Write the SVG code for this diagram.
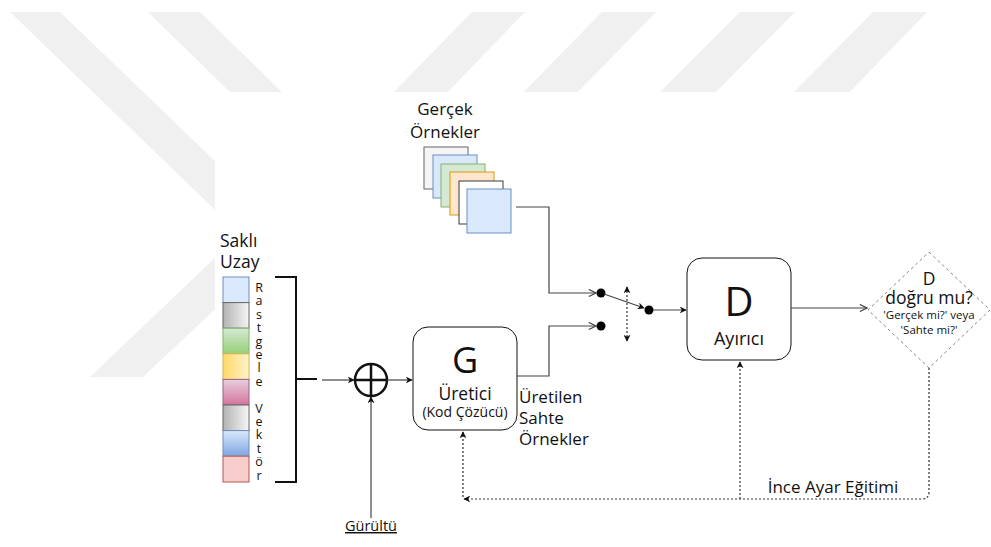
<svg xmlns="http://www.w3.org/2000/svg" width="991" height="547" viewBox="0 0 991 547">
<style>
text{font-family:"Open Sans","Noto Sans","DejaVu Sans",sans-serif;fill:#111}
.lbl{font-size:17px}
.ln{fill:none;stroke:#444;stroke-width:1.2}
.dash{fill:none;stroke:#333;stroke-width:1.2;stroke-dasharray:2,2}
.box{fill:#fff;stroke:#111;stroke-width:1}
.wm{fill:#f0f0f0}
</style>
<defs>
<marker id="fa" viewBox="0 0 10 10" refX="9" refY="5" markerWidth="7" markerHeight="7" markerUnits="userSpaceOnUse" orient="auto"><path d="M0,0 L10,5 L0,10 L3,5 z" fill="#111"/></marker>
<marker id="fas" viewBox="0 0 10 10" refX="9" refY="5" markerWidth="7" markerHeight="7" markerUnits="userSpaceOnUse" orient="auto-start-reverse"><path d="M0,0 L10,5 L0,10 L3,5 z" fill="#111"/></marker>
<marker id="oa" viewBox="0 0 10 10" refX="9" refY="5" markerWidth="9" markerHeight="9" markerUnits="userSpaceOnUse" orient="auto"><path d="M1,1 L9,5 L1,9" fill="none" stroke="#444" stroke-width="1.3"/></marker>
<linearGradient id="gGray" x1="0" y1="0" x2="1" y2="0"><stop offset="0" stop-color="#b3b3b3"/><stop offset="1" stop-color="#f5f5f5"/></linearGradient>
<linearGradient id="gGreen" x1="0" y1="0" x2="0" y2="1"><stop offset="0" stop-color="#d5e8d4"/><stop offset="1" stop-color="#97d077"/></linearGradient>
<linearGradient id="gYellow" x1="0" y1="0" x2="1" y2="0"><stop offset="0" stop-color="#ffd966"/><stop offset="1" stop-color="#fff2cc"/></linearGradient>
<linearGradient id="gPink" x1="0" y1="0" x2="0" y2="1"><stop offset="0" stop-color="#e6d0de"/><stop offset="1" stop-color="#d5739d"/></linearGradient>
<linearGradient id="gBlue" x1="0" y1="0" x2="0" y2="1"><stop offset="0" stop-color="#dae8fc"/><stop offset="1" stop-color="#7ea6e0"/></linearGradient>
</defs>
<rect width="991" height="547" fill="#fff"/>
<g id="watermark">
<polygon class="wm" points="10,12 60,12 293,236 143,377 90,377 240,234"/>
<polygon class="wm" points="148,12 200,12 290,100 238,100"/>
<polygon class="wm" points="472,12 525,12 440,100 386,100"/>
<polygon class="wm" points="602,12 656,12 570,100 516,100"/>
<polygon class="wm" points="740,12 795,12 708,100 652,100"/>
<polygon class="wm" points="873,12 927,12 842,100 786,100"/>
<rect x="215" y="92" width="776" height="455" fill="#fff"/>
</g>
<g id="real-samples">
<text class="lbl" x="445" y="115" text-anchor="middle">Gerçek</text>
<text class="lbl" x="445" y="138" text-anchor="middle">Örnekler</text>
<rect x="424" y="147" width="44" height="42" fill="#f5f5f5" stroke="#666"/>
<rect x="433" y="155" width="44" height="43" fill="#dae8fc" stroke="#6c8ebf"/>
<rect x="441" y="164" width="44" height="43" fill="#d5e8d4" stroke="#82b366"/>
<rect x="450" y="172" width="44" height="43" fill="#ffe6cc" stroke="#d79b00"/>
<rect x="459" y="181" width="44" height="43" fill="#fff" stroke="#36393d"/>
<rect x="467" y="189" width="44" height="44" fill="#dae8fc" stroke="#6c8ebf"/>
</g>
<g id="latent">
<text x="220" y="247" font-size="17.5">Saklı</text>
<text x="220" y="268" font-size="17.5">Uzay</text>
<rect x="223" y="277" width="26" height="25.6" fill="#dae8fc" stroke="#6c8ebf"/>
<rect x="223" y="302.6" width="26" height="25.6" fill="url(#gGray)" stroke="#666"/>
<rect x="223" y="328.2" width="26" height="25.6" fill="url(#gGreen)" stroke="#82b366"/>
<rect x="223" y="353.8" width="26" height="25.6" fill="url(#gYellow)" stroke="#d6b656"/>
<rect x="223" y="379.4" width="26" height="25.6" fill="url(#gPink)" stroke="#996185"/>
<rect x="223" y="405" width="26" height="25.6" fill="url(#gGray)" stroke="#666"/>
<rect x="223" y="430.6" width="26" height="25.6" fill="url(#gBlue)" stroke="#6c8ebf"/>
<rect x="223" y="456.2" width="26" height="25.8" fill="#f8cecc" stroke="#b85450"/>
<text font-size="12.5" text-anchor="middle"><tspan x="259" y="292">R</tspan><tspan x="259" y="305.4">a</tspan><tspan x="259" y="318.8">s</tspan><tspan x="259" y="332.2">t</tspan><tspan x="259" y="345.6">g</tspan><tspan x="259" y="359">e</tspan><tspan x="259" y="372.4">l</tspan><tspan x="259" y="385.8">e</tspan><tspan x="259" y="412.6">V</tspan><tspan x="259" y="426">e</tspan><tspan x="259" y="439.4">k</tspan><tspan x="259" y="452.8">t</tspan><tspan x="259" y="466.2">ö</tspan><tspan x="259" y="479.6">r</tspan></text>
<path d="M275,277 H296 V482 H275 M296,379 H317" fill="none" stroke="#111" stroke-width="2"/>
</g>
<g id="sum">
<circle cx="371" cy="380" r="16" fill="#fff" stroke="#111" stroke-width="2.5"/>
<path d="M355,380 H387 M371,364 V396" stroke="#111" stroke-width="2.5"/>
</g>
<g id="noise">
<text x="371" y="531" font-size="14.5" text-anchor="middle" text-decoration="underline">Gürültü</text>
</g>
<g id="generator">
<rect class="box" x="413" y="327" width="104" height="103" rx="15"/>
<text x="465" y="373" font-size="36" text-anchor="middle" fill="#333">G</text>
<text x="465" y="400" font-size="17.5" text-anchor="middle">Üretici</text>
<text x="465" y="417" font-size="14" text-anchor="middle">(Kod Çözücü)</text>
</g>
<g id="fake-samples">
<text class="lbl" x="519" y="403">Üretilen</text>
<text class="lbl" x="519" y="424">Sahte</text>
<text class="lbl" x="519" y="445">Örnekler</text>
</g>
<g id="switch">
<circle cx="601" cy="293" r="4.5" fill="#000"/>
<circle cx="601" cy="326" r="4.5" fill="#000"/>
<circle cx="649" cy="310" r="4.5" fill="#000"/>
</g>
<g id="discriminator">
<rect class="box" x="687" y="258" width="104" height="102" rx="15"/>
<text x="739" y="316" font-size="40" text-anchor="middle" fill="#333">D</text>
<text x="739" y="345" font-size="18" text-anchor="middle">Ayırıcı</text>
</g>
<g id="decision">
<polygon points="929,252 990,310 929,368 868,310" fill="#fff" stroke="#888" stroke-width="1" stroke-dasharray="3,3"/>
<text x="929" y="285" font-size="17.5" text-anchor="middle">D</text>
<text x="929" y="304" font-size="17.5" text-anchor="middle">doğru mu?</text>
<text x="929" y="319" font-size="11.5" text-anchor="middle">'Gerçek mi?' veya</text>
<text x="929" y="334" font-size="11.5" text-anchor="middle">'Sahte mi?'</text>
</g>
<g id="finetune">
<text x="833" y="493" font-size="17" text-anchor="middle">İnce Ayar Eğitimi</text>
</g>
<g id="connectors">
<path class="ln" d="M516,207 H549 V293 H596" marker-end="url(#oa)"/>
<path class="ln" d="M517,376 H549 V326 H596" marker-end="url(#oa)"/>
<path class="ln" d="M604,294 L644,308" marker-end="url(#fa)"/>
<path class="ln" d="M653,310 H686" marker-end="url(#fa)"/>
<path class="dash" d="M627,287 V341" marker-start="url(#fas)" marker-end="url(#fas)"/>
<path class="ln" d="M791,308 H867" marker-end="url(#oa)"/>
<path class="dash" d="M929,368 V492 Q929,499 922,499 H464" marker-end="url(#fa)"/>
<path class="dash" d="M463,497 V432" marker-end="url(#fa)"/>
<path class="dash" d="M740,499 V362" marker-end="url(#fa)"/>
<path class="ln" d="M322,380 H354" stroke="#111" marker-end="url(#fa)"/>
<path class="ln" d="M387,380 H412" stroke="#111" marker-end="url(#fa)"/>
<path class="ln" d="M371,518 V397" stroke="#111" marker-end="url(#fa)"/>
</g>
</svg>
